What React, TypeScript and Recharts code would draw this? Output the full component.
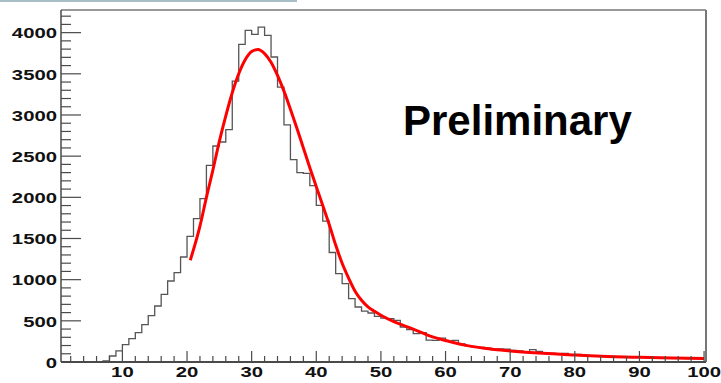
import React from "react";
import { LineChart, Line, XAxis, YAxis, ReferenceLine } from "recharts";

// histogram contents, one entry per unit-wide bin starting at x = 1
const binCounts = [
  0, 0, 0, 0, 0, 0, 12, 73, 134, 211,
  284, 357, 454, 563, 680, 822, 984, 1085, 1275, 1526,
  1741, 1984, 2388, 2623, 2672, 2822, 3410, 3858, 4028, 3979,
  4068, 3967, 3704, 3339, 2880, 2458, 2300, 2290, 2142, 1903,
  1712, 1330, 1073, 952, 770, 668, 619, 595, 555, 534,
  527, 506, 425, 393, 345, 355, 265, 262, 290, 250,
  262, 220, 195, 185, 178, 168, 150, 160, 155, 140,
  135, 122, 150, 130, 110, 104, 100, 105, 88, 92,
  80, 70, 78, 70, 66, 62, 58, 60, 55, 55,
  52, 50, 48, 50, 45, 46, 42, 44, 40,
];

// fitted function
const fitX = [
  20.5, 22, 23, 24, 25, 26, 27, 28, 29, 30, 31, 32, 33, 34, 35, 36, 37, 38,
  39, 40, 41, 42, 43, 44, 45, 46, 47, 48, 49, 50, 52, 55, 58, 60, 63, 66, 70,
  75, 80, 85, 90, 95, 100,
];
const fitY = [
  1235, 1650, 2000, 2330, 2680, 2990, 3270, 3500, 3670, 3770, 3795, 3745,
  3640, 3480, 3290, 3070, 2840, 2600, 2360, 2130, 1900, 1670, 1420, 1200,
  1020, 860, 750, 670, 615, 568, 490, 400, 305, 262, 205, 168, 135, 105, 85,
  68, 57, 49, 42,
];

const xMajorTicks = [10, 20, 30, 40, 50, 60, 70, 80, 90, 100];
const yMajorTicks = [0, 500, 1000, 1500, 2000, 2500, 3000, 3500, 4000];

const X_MIN = 0.5;
const X_MAX = 100.3;
const Y_MAX = 4275;

const xTicks = Array.from({ length: 50 }, (_, i) => (i + 1) * 2);
const yTicks = Array.from({ length: 43 }, (_, i) => i * 100);

const histData = binCounts
  .map((c, i) => ({ x: i + 1, count: c }))
  .concat([{ x: 100, count: binCounts[binCounts.length - 1] }]);
const fitData = fitX.map((x, i) => ({ x, fit: fitY[i] }));

const FONT = "'Liberation Sans', Arial, Helvetica, sans-serif";
const AXIS = "#4a4a4a";

function XTick(props: any) {
  const { x, y, payload } = props;
  const major = xMajorTicks.includes(payload.value);
  return (
    <g>
      <line x1={x} x2={x} y1={y} y2={y - (major ? 11 : 6)} stroke={AXIS} strokeWidth={1.2} />
      {major && (
        <text
          transform={`translate(${x},${y + 10}) scale(1.45,1)`}
          textAnchor="middle"
          dominantBaseline="central"
          fontFamily={FONT}
          fontWeight="bold"
          fontSize={14}
          fill="#111"
        >
          {payload.value}
        </text>
      )}
    </g>
  );
}

function YTick(props: any) {
  const { x, y, payload } = props;
  const major = yMajorTicks.includes(payload.value);
  return (
    <g>
      <line x1={x} x2={x + (major ? 20 : 10)} y1={y} y2={y} stroke={AXIS} strokeWidth={1.2} />
      {major && (
        <text
          transform={`translate(${x - 4},${y + 1}) scale(1.45,1)`}
          textAnchor="end"
          dominantBaseline="central"
          fontFamily={FONT}
          fontWeight="bold"
          fontSize={14}
          fill="#111"
        >
          {payload.value}
        </text>
      )}
    </g>
  );
}

export default function App() {
  return (
    <div style={{ position: "absolute", left: 0, top: 0, width: 721, height: 383, background: "#fff" }}>
      <div style={{ position: "absolute", left: 0, top: 0, width: 297, height: 2, background: "#a9bfc8" }} />
      <LineChart width={721} height={383} margin={{ top: 10, right: 15, bottom: 0, left: 0 }}>
        <XAxis
          dataKey="x"
          type="number"
          domain={[X_MIN, X_MAX]}
          ticks={xTicks}
          interval={0}
          allowDataOverflow
          height={21}
          tickSize={0}
          tickMargin={0}
          tickLine={false}
          tick={<XTick />}
          axisLine={{ stroke: AXIS, strokeWidth: 2 }}
        />
        <YAxis
          type="number"
          domain={[0, Y_MAX]}
          ticks={yTicks}
          interval={0}
          allowDataOverflow
          width={61}
          tickSize={0}
          tickMargin={0}
          tickLine={false}
          tick={<YTick />}
          axisLine={{ stroke: AXIS, strokeWidth: 1.5 }}
        />
        <ReferenceLine x={X_MAX} stroke={AXIS} strokeWidth={1.5} />
        <ReferenceLine y={Y_MAX} stroke="#777" strokeWidth={1.5} />
        <Line
          data={histData}
          dataKey="count"
          type="stepAfter"
          stroke="#555"
          strokeWidth={1.3}
          dot={false}
          isAnimationActive={false}
        />
        <Line
          data={fitData}
          dataKey="fit"
          type="monotone"
          stroke="#ff0000"
          strokeWidth={3}
          dot={false}
          isAnimationActive={false}
        />
      </LineChart>
      <div
        style={{
          position: "absolute",
          left: 403,
          top: 97,
          fontFamily: FONT,
          fontWeight: "bold",
          fontSize: 42,
          lineHeight: "48px",
          color: "#000",
          whiteSpace: "nowrap",
        }}
      >
        Preliminary
      </div>
    </div>
  );
}
